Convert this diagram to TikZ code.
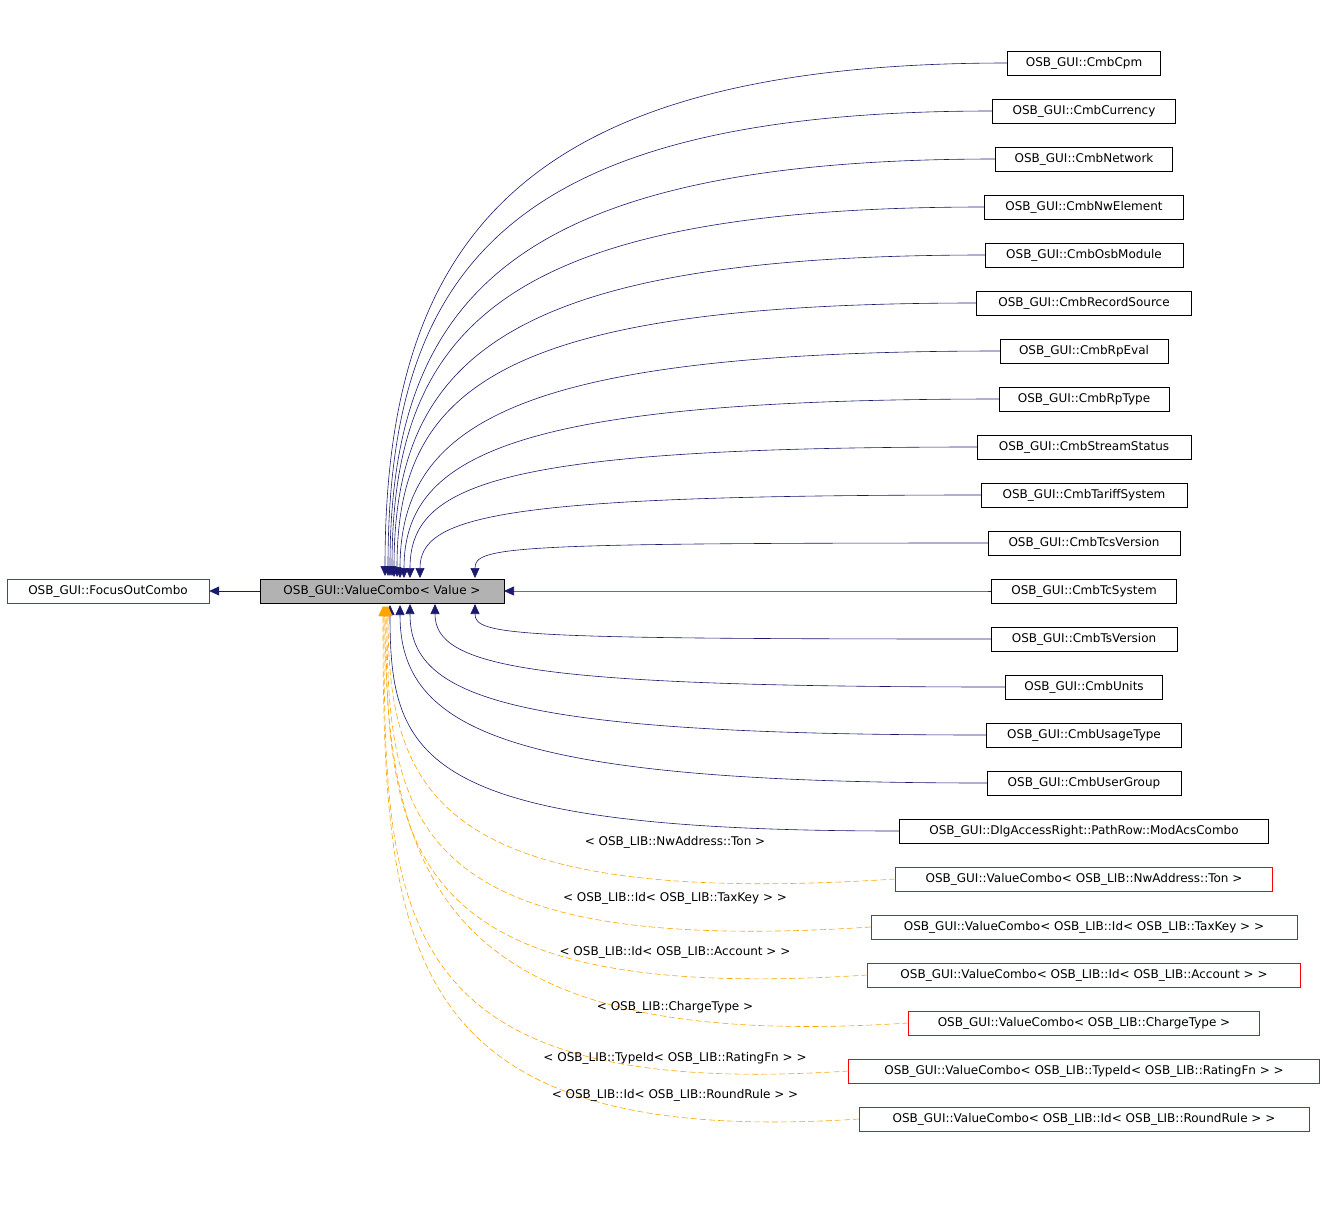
\documentclass[tikz,border=0pt]{standalone}
\usepackage{fontspec}
\setmainfont{DejaVu Sans}
\usetikzlibrary{arrows.meta}
\definecolor{inhblue}{HTML}{191970}
\definecolor{tplorange}{HTML}{FFA500}
\tikzset{
  cls/.style={draw, font=\fontsize{12}{14}\selectfont, minimum height=24pt, inner sep=2pt},
  tplcls/.style={cls, draw=red},
  inh/.style={draw=inhblue, line width=0.6pt, -{Triangle[length=10pt,width=9pt,fill=inhblue]}},
  tpl/.style={draw=tplorange, line width=0.6pt, dashed, dash pattern=on 6pt off 3pt, -{Triangle[length=10pt,width=9pt,fill=tplorange]}},
  lbl/.style={font=\fontsize{12}{14}\selectfont}
}
\begin{document}
\begin{tikzpicture}[x=1pt, y=-1pt]
  \useasboundingbox (0,0) rectangle (1325,1229);
  \node[tplcls, minimum width=202pt] (focus) at (108,591) {OSB\_GUI::FocusOutCombo};
  \node[cls, fill=black!30, minimum width=244pt] (vc) at (382,591) {OSB\_GUI::ValueCombo< Value >};
  \draw[inh] (vc) -- (focus);

  % derived classes
  \foreach \nm/\txt/\y/\w/\ex/\ey in {
      cpm/CmbCpm/63/153/385/576,
      currency/CmbCurrency/111/183/388/576,
      network/CmbNetwork/159/177/390/576,
      nwelement/CmbNwElement/207/199/392/576,
      osbmodule/CmbOsbModule/255/198/394/577,
      recsrc/CmbRecordSource/303/215/397/577,
      rpeval/CmbRpEval/351/168/400/578,
      rptype/CmbRpType/399/170/404/578,
      streamstatus/CmbStreamStatus/447/214/410/578,
      tariff/CmbTariffSystem/495/206/420/578,
      tcsversion/CmbTcsVersion/543/192/475/578,
      tcsystem/CmbTcSystem/591/185/504/591,
      tsversion/CmbTsVersion/639/186/475/604,
      units/CmbUnits/687/157/435/604,
      usagetype/CmbUsageType/735/195/410/604,
      usergroup/CmbUserGroup/783/194/400/605,
      modacs/DlgAccessRight::PathRow::ModAcsCombo/831/369/390/605} {
    \node[cls, minimum width=\w pt] (\nm) at (1084,\y) {OSB\_GUI::\txt};
    \coordinate (\nm-end) at (\ex,\ey);
    \pgfmathsetmacro\d{0.65*(\y-591)}
    \draw[inh] (\nm.west) .. controls +(-480,0) and +(0,\d) .. (\nm-end);
  }

  % template instances
  \foreach \nm/\txt/\y/\w/\ex/\ly in {
      ton/OSB\_LIB::NwAddress::Ton/879/377/388/842,
      taxkey/OSB\_LIB::Id< OSB\_LIB::TaxKey >/927/426/387/898,
      account/OSB\_LIB::Id< OSB\_LIB::Account >/975/433/386/952,
      charge/OSB\_LIB::ChargeType/1023/351/385/1007,
      rating/OSB\_LIB::TypeId< OSB\_LIB::RatingFn >/1071/471/384/1058,
      round/OSB\_LIB::Id< OSB\_LIB::RoundRule >/1119/450/383/1095} {
    \node[tplcls, minimum width=\w pt] (\nm) at (1084,\y) {OSB\_GUI::ValueCombo< \txt{} >};
    \coordinate (\nm-end) at (\ex,606);
    \pgfmathsetmacro\d{0.65*(\y-591)}
    \draw[tpl] (\nm.west) .. controls +(-460,30) and +(0,\d) .. (\nm-end);
    \node[lbl] (\nm-lbl) at (675,\ly) {< \txt{} >};
  }
\end{tikzpicture}
\end{document}
